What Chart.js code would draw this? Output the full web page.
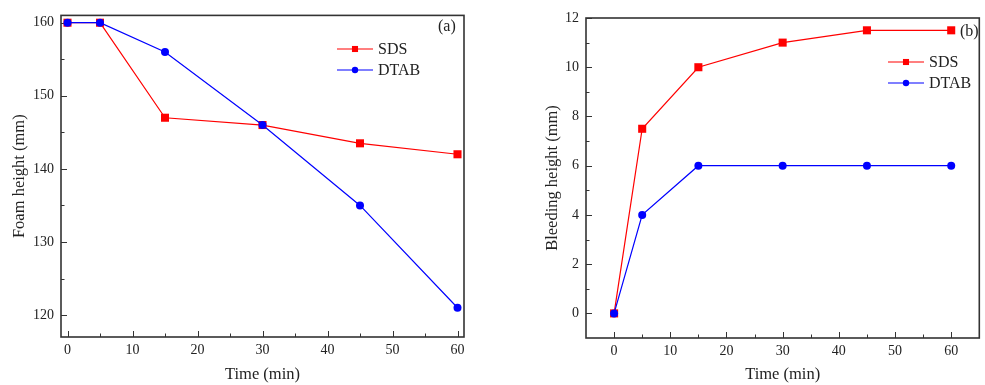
<!DOCTYPE html>
<html>
<head>
<meta charset="utf-8">
<script src="https://cdn.jsdelivr.net/npm/chart.js@4.4.0/dist/chart.umd.min.js"></script>
<style>
body{margin:0;background:#fff;}
.box{position:absolute;top:0;height:385px;}
</style>
</head>
<body>
<div class="box" style="left:0;width:480px"><canvas id="chartA"></canvas></div>
<div class="box" style="left:500px;width:485px"><canvas id="chartB"></canvas></div>
<script>
// values
const times=[0,5,15,30,45,60];
const foamSDS=[160,160,147,146,143.5,142];
const foamDTAB=[160,160,156,146,135,121];
const bleedSDS=[0,7.5,10,11,11.5,11.5];
const bleedDTAB=[0,4,6,6,6,6];
const seriesNames=['SDS','DTAB'];
const timeTicks=[0,10,20,30,40,50,60];
const timeMinor=[5,15,25,35,45,55];
const foamTicks=[120,130,140,150,160];
const foamMinor=[125,135,145,155];
const bleedTicks=[0,2,4,6,8,10,12];
const bleedMinor=[1,3,5,7,9,11];

const FONT='"Liberation Serif", "Times New Roman", serif';
const INK='#222';

const pts=(ys)=>times.map((t,i)=>({x:t,y:ys[i]}));

// frame + inward ticks, legend and panel label
const decor={
  id:'decor',
  beforeDatasetsDraw(chart,args,o){
    const {ctx,chartArea:a,scales:{x,y}}=chart;
    ctx.save();
    ctx.strokeStyle='#333';
    ctx.lineWidth=1;
    const tick=(v,len,isX)=>{
      ctx.beginPath();
      if(isX){const px=Math.round(x.getPixelForValue(v))+0.5;ctx.moveTo(px,a.bottom);ctx.lineTo(px,a.bottom-len);}
      else{const py=Math.round(y.getPixelForValue(v))+0.5;ctx.moveTo(a.left,py);ctx.lineTo(a.left+len,py);}
      ctx.stroke();
    };
    o.xMajor.forEach(v=>tick(v,6,true));
    o.xMinor.forEach(v=>tick(v,3.5,true));
    o.yMajor.forEach(v=>tick(v,6,false));
    o.yMinor.forEach(v=>tick(v,3.5,false));
    ctx.lineWidth=1.6;
    ctx.strokeRect(a.left,a.top,a.right-a.left,a.bottom-a.top);
    ctx.restore();
  },
  afterDraw(chart,args,o){
    const {ctx}=chart;
    ctx.save();
    ctx.font='16px '+FONT;
    ctx.fillStyle=INK;
    ctx.textBaseline='middle';
    chart.data.datasets.forEach((ds,i)=>{
      const ly=o.legendY+i*21;
      ctx.strokeStyle=ds.borderColor;
      ctx.lineWidth=1.2;
      ctx.beginPath();ctx.moveTo(o.legendX,ly);ctx.lineTo(o.legendX+36,ly);ctx.stroke();
      ctx.fillStyle=ds.backgroundColor;
      Chart.helpers.drawPoint(ctx,{pointStyle:ds.pointStyle,rotation:0,radius:ds.pointStyle==='rect'?4.3:3.2,borderWidth:0},o.legendX+18,ly);
      ctx.fillStyle=INK;
      ctx.textAlign='left';
      ctx.fillText(ds.label,o.legendX+41,ly+1);
    });
    ctx.textAlign='left';
    ctx.fillText(o.tag,o.tagX,o.tagY);
    ctx.restore();
  }
};

function makeChart(id,p){
  const tickFont={family:FONT,size:14};
  const titleFont={family:FONT,size:16.5};
  return new Chart(document.getElementById(id),{
    type:'line',
    data:{datasets:[
      {label:seriesNames[0],data:pts(p.sds),borderColor:'#ff0000',backgroundColor:'#ff0000',
       pointStyle:'rect',pointRadius:5.7,pointBorderWidth:0,borderWidth:1.2,order:2,clip:false},
      {label:seriesNames[1],data:pts(p.dtab),borderColor:'#0000ff',backgroundColor:'#0000ff',
       pointStyle:'circle',pointRadius:4,pointBorderWidth:0,borderWidth:1.2,order:1,clip:false}
    ]},
    options:{
      responsive:true,maintainAspectRatio:false,animation:false,
      layout:{padding:p.pad},
      plugins:{legend:{display:false},tooltip:{enabled:false},decor:p.decor},
      scales:{
        x:{type:'linear',min:p.xMin,max:p.xMax,
           afterBuildTicks:s=>{s.ticks=timeTicks.map(v=>({value:v}));},
           afterFit:s=>{s.height=p.xH;},
           grid:{display:false,drawTicks:false},border:{display:false},
           ticks:{font:tickFont,color:INK,padding:5,maxRotation:0,autoSkip:false},
           title:{display:true,text:'Time (min)',font:titleFont,color:INK,padding:0}},
        y:{type:'linear',min:p.yMin,max:p.yMax,
           afterBuildTicks:s=>{s.ticks=p.yTicks.map(v=>({value:v}));},
           afterFit:s=>{s.width=p.yW;},
           grid:{display:false,drawTicks:false},border:{display:false},
           ticks:{font:tickFont,color:INK,padding:7,autoSkip:false},
           title:{display:true,text:p.yTitle,font:titleFont,color:INK,padding:0}}
      }
    },
    plugins:[decor]
  });
}

makeChart('chartA',{
  sds:foamSDS,dtab:foamDTAB,
  xMin:-1,xMax:61,yMin:117,yMax:161,yTicks:foamTicks,
  yTitle:'Foam height (mm)',
  pad:{left:10,top:12,right:16,bottom:0},yW:51,xH:48,
  decor:{xMajor:timeTicks,xMinor:timeMinor,yMajor:foamTicks,yMinor:foamMinor,
         legendX:337,legendY:49,tag:'(a)',tagX:438,tagY:27}
});

makeChart('chartB',{
  sds:bleedSDS,dtab:bleedDTAB,
  xMin:-5,xMax:65,yMin:-1,yMax:12,yTicks:bleedTicks,
  yTitle:'Bleeding height (mm)',
  pad:{left:43,top:18,right:3,bottom:0},yW:43,xH:47,
  decor:{xMajor:timeTicks,xMinor:timeMinor,yMajor:bleedTicks,yMinor:bleedMinor,
         legendX:388,legendY:62,tag:'(b)',tagX:460,tagY:32}
});
</script>
</body>
</html>
